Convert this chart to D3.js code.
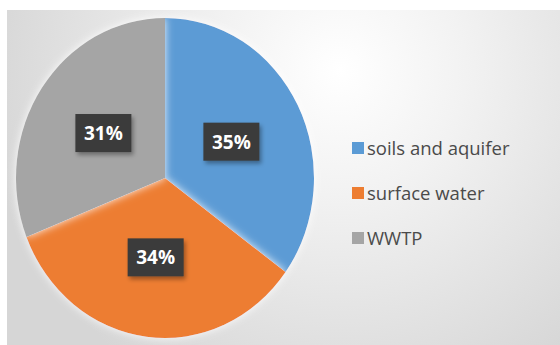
<!DOCTYPE html>
<html><head><meta charset="utf-8">
<script src="https://cdn.jsdelivr.net/npm/d3@7"></script>
<style>html,body{margin:0;padding:0;background:#fff;}svg{display:block;}</style>
</head><body>
<script>
const categories = ["soils and aquifer", "surface water", "WWTP"];
const values = [35, 34, 31];
const labels = ["35%", "34%", "31%"];
const colors = ["#5B9BD5", "#ED7D31", "#A5A5A5"];

const W = 560, H = 345;
const svg = d3.select("body").append("svg").attr("width", W).attr("height", H);
const defs = svg.append("defs");
const bg = defs.append("radialGradient").attr("id", "bg")
  .attr("gradientUnits", "userSpaceOnUse").attr("cx", 340).attr("cy", 70).attr("r", 360);
bg.append("stop").attr("offset", 0).attr("stop-color", "#ffffff");
bg.append("stop").attr("offset", 0.35).attr("stop-color", "#f2f2f2");
bg.append("stop").attr("offset", 1).attr("stop-color", "#d6d6d6");
const sh = defs.append("filter").attr("id", "sh").attr("x", "-30%").attr("y", "-30%").attr("width", "170%").attr("height", "170%");
sh.append("feDropShadow").attr("dx", 2).attr("dy", 3).attr("stdDeviation", 2).attr("flood-color", "#000").attr("flood-opacity", 0.35);
const psh = defs.append("filter").attr("id", "psh").attr("x", "-20%").attr("y", "-20%").attr("width", "140%").attr("height", "140%");
psh.append("feDropShadow").attr("dx", 0).attr("dy", 0).attr("stdDeviation", 4).attr("flood-color", "#fff").attr("flood-opacity", 0.9);

svg.append("rect").attr("x", 7).attr("y", 10).attr("width", W - 7).attr("height", H - 10).attr("fill", "url(#bg)");

const cx = 165, cy = 178, r = 149, sy = 160 / 149;
const pie = d3.pie().sort(null).value(d => d)(values);
const arc = d3.arc().innerRadius(0).outerRadius(r);
const g = svg.append("g").attr("transform", `translate(${cx},${cy}) scale(1,${sy})`);
g.selectAll("path").data(pie).join("path")
  .attr("d", arc).attr("fill", (d, i) => colors[i]).attr("filter", "url(#psh)");

const labelArc = d3.arc().innerRadius(r * 0.5).outerRadius(r * 0.5);
const lg = svg.append("g").attr("transform", `translate(${cx},${cy})`);
pie.forEach((d, i) => {
  const [x, y0] = labelArc.centroid(d);
  const y = y0 * sy;
  const t = lg.append("g").attr("transform", `translate(${x},${y})`);
  t.append("rect").attr("x", -28).attr("y", -19).attr("width", 56).attr("height", 38)
    .attr("fill", "#3a3a3a").attr("filter", "url(#sh)");
  t.append("text").attr("text-anchor", "middle").attr("dy", "0.36em")
    .attr("font-family", "'Open Sans', sans-serif").attr("font-weight", "bold")
    .attr("font-size", 19).attr("fill", "#ffffff").text(labels[i]);
});

const leg = svg.append("g");
categories.forEach((c, i) => {
  const y = 148 + i * 45;
  leg.append("rect").attr("x", 352).attr("y", y - 6).attr("width", 12).attr("height", 12).attr("fill", colors[i]);
  leg.append("text").attr("x", 367).attr("y", y).attr("dy", "0.36em")
    .attr("font-family", "'Open Sans', sans-serif").attr("font-size", 18.5)
    .attr("fill", "#4a4a4a").text(c);
});
</script>
</body></html>
